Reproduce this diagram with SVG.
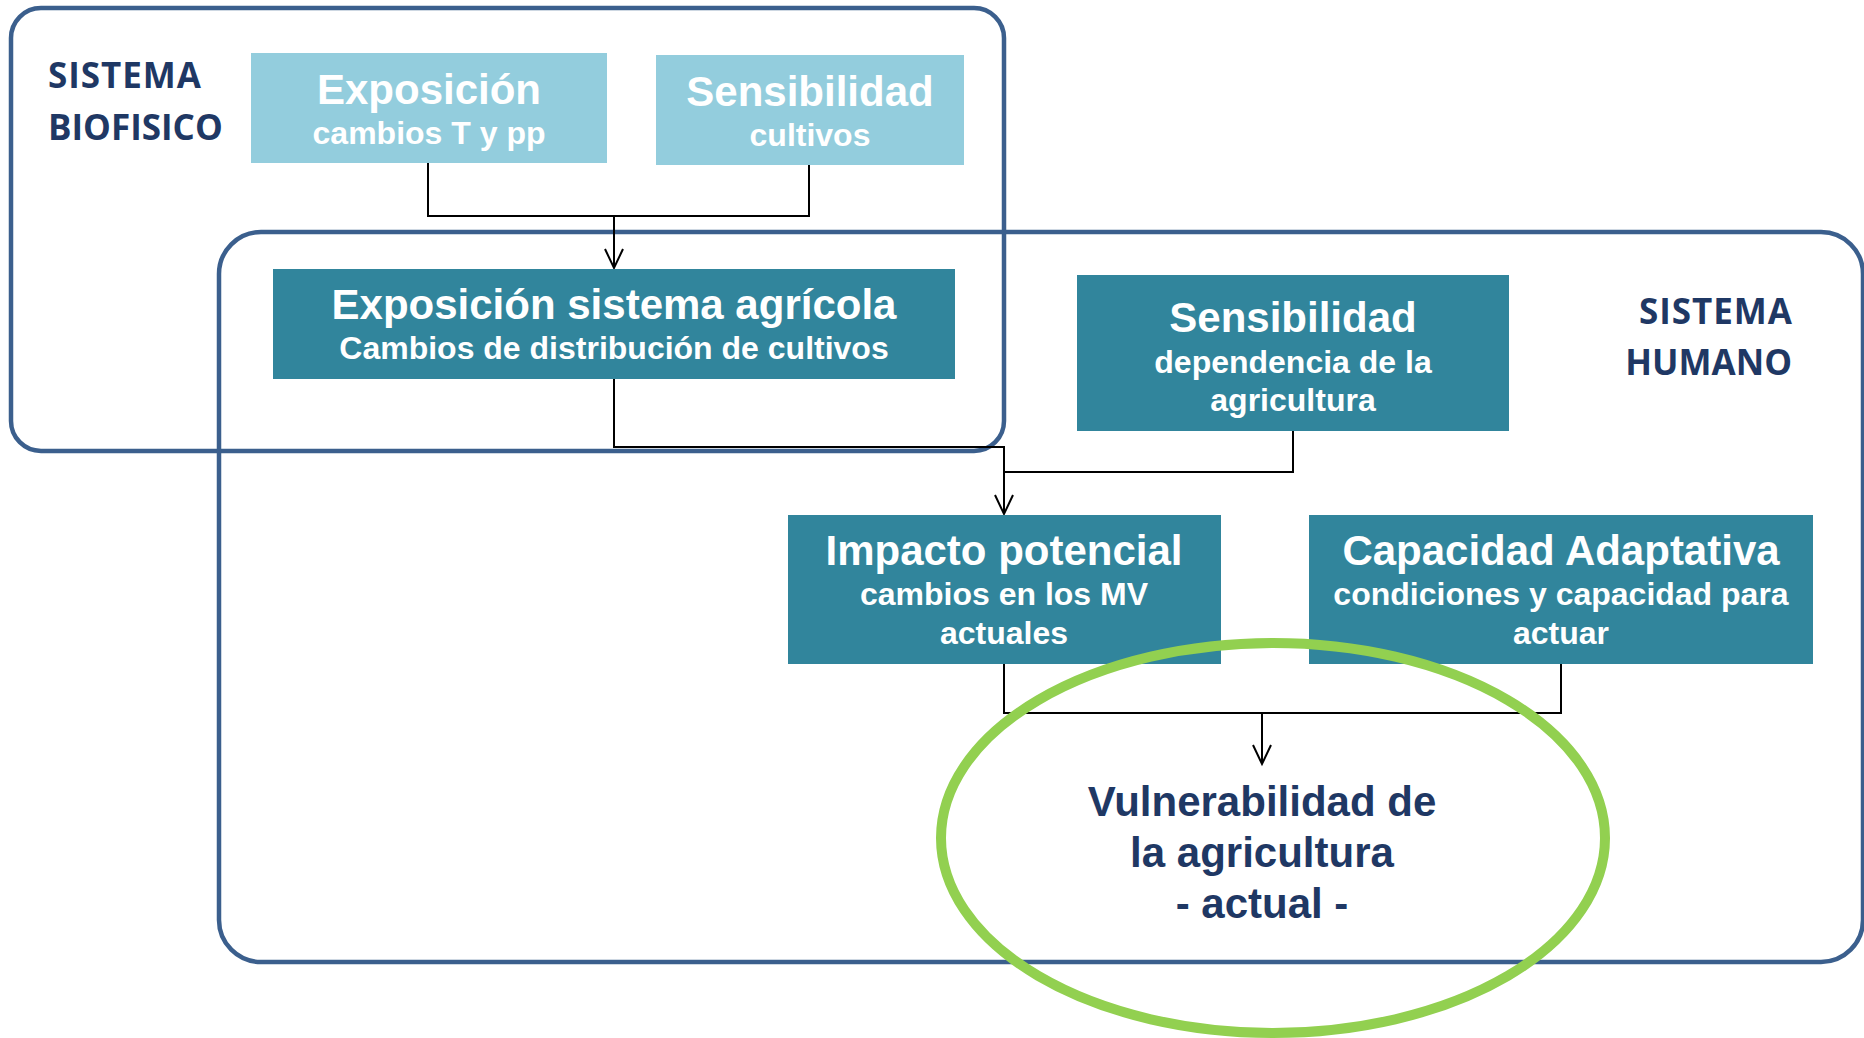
<svg xmlns="http://www.w3.org/2000/svg" width="1864" height="1038" viewBox="0 0 1864 1038">
<defs>
<style>
.frame{fill:none;stroke:#3B5F8D;stroke-width:4.5}
.light{fill:#93CDDD}
.dark{fill:#31859C}
.t{font-family:"Liberation Sans",Arial,sans-serif;font-weight:bold;fill:#fff;text-anchor:middle}
.h{font-size:42px}
.s{font-size:32px}
.sys{font-family:"Open Sans","Noto Sans",sans-serif;font-weight:bold;font-size:35px;fill:#1F3864}
.conn{fill:none;stroke:#000;stroke-width:2}
.vul{font-family:"Liberation Sans",Arial,sans-serif;font-weight:bold;font-size:42px;fill:#1F3864;text-anchor:middle}
</style>
<marker id="arr" markerUnits="userSpaceOnUse" markerWidth="24" markerHeight="24" viewBox="0 0 24 24" refX="20" refY="12" orient="auto">
<path d="M1,3 L20,12 L1,21" fill="none" stroke="#000" stroke-width="2"/>
</marker>
</defs>
<rect width="1864" height="1038" fill="#fff"/>

<g id="sistema-biofisico">
<rect class="frame" x="11" y="8" width="993" height="443" rx="30"/>
<text class="sys" x="48" y="88" textLength="153" lengthAdjust="spacing">SISTEMA</text>
<text class="sys" x="48" y="140">BIOFISICO</text>
</g>
<g id="sistema-humano">
<rect class="frame" x="219" y="232" width="1644" height="730" rx="42"/>
<text class="sys" x="1792" y="324" text-anchor="end" textLength="153" lengthAdjust="spacing">SISTEMA</text>
<text class="sys" x="1792" y="375" text-anchor="end">HUMANO</text>
</g>

<g id="connectors">
<polyline class="conn" points="428,163 428,216 809,216 809,165"/>
<line class="conn" x1="614" y1="216" x2="614" y2="268" marker-end="url(#arr)"/>
<polyline class="conn" points="614,379 614,447 1004,447 1004,514" marker-end="url(#arr)"/>
<polyline class="conn" points="1293,431 1293,472 1004,472"/>
<polyline class="conn" points="1004,664 1004,713 1561,713 1561,664"/>
<line class="conn" x1="1262" y1="713" x2="1262" y2="764" marker-end="url(#arr)"/>
</g>

<g id="exposicion">
<rect class="light" x="251" y="53" width="356" height="110"/>
<text class="t h" x="429" y="104">Exposición</text>
<text class="t s" x="429" y="144">cambios T y pp</text>
</g>
<g id="sensibilidad-cultivos">
<rect class="light" x="656" y="55" width="308" height="110"/>
<text class="t h" x="810" y="106">Sensibilidad</text>
<text class="t s" x="810" y="146">cultivos</text>
</g>
<g id="exposicion-sistema-agricola">
<rect class="dark" x="273" y="269" width="682" height="110"/>
<text class="t h" x="614" y="319">Exposición sistema agrícola</text>
<text class="t s" x="614" y="359">Cambios de distribución de cultivos</text>
</g>
<g id="sensibilidad-agricultura">
<rect class="dark" x="1077" y="275" width="432" height="156"/>
<text class="t h" x="1293" y="332">Sensibilidad</text>
<text class="t s" x="1293" y="373">dependencia de la</text>
<text class="t s" x="1293" y="411">agricultura</text>
</g>
<g id="impacto-potencial">
<rect class="dark" x="788" y="515" width="433" height="149"/>
<text class="t h" x="1004" y="565">Impacto potencial</text>
<text class="t s" x="1004" y="605">cambios en los MV</text>
<text class="t s" x="1004" y="644">actuales</text>
</g>
<g id="capacidad-adaptativa">
<rect class="dark" x="1309" y="515" width="504" height="149"/>
<text class="t h" x="1561" y="565">Capacidad Adaptativa</text>
<text class="t s" x="1561" y="605">condiciones y capacidad para</text>
<text class="t s" x="1561" y="644">actuar</text>
</g>
<g id="vulnerabilidad">
<ellipse cx="1273" cy="838" rx="332" ry="195" fill="none" stroke="#92D050" stroke-width="10"/>
<text class="vul" x="1262" y="816">Vulnerabilidad de</text>
<text class="vul" x="1262" y="867">la agricultura</text>
<text class="vul" x="1262" y="918">- actual -</text>
</g>
</svg>
